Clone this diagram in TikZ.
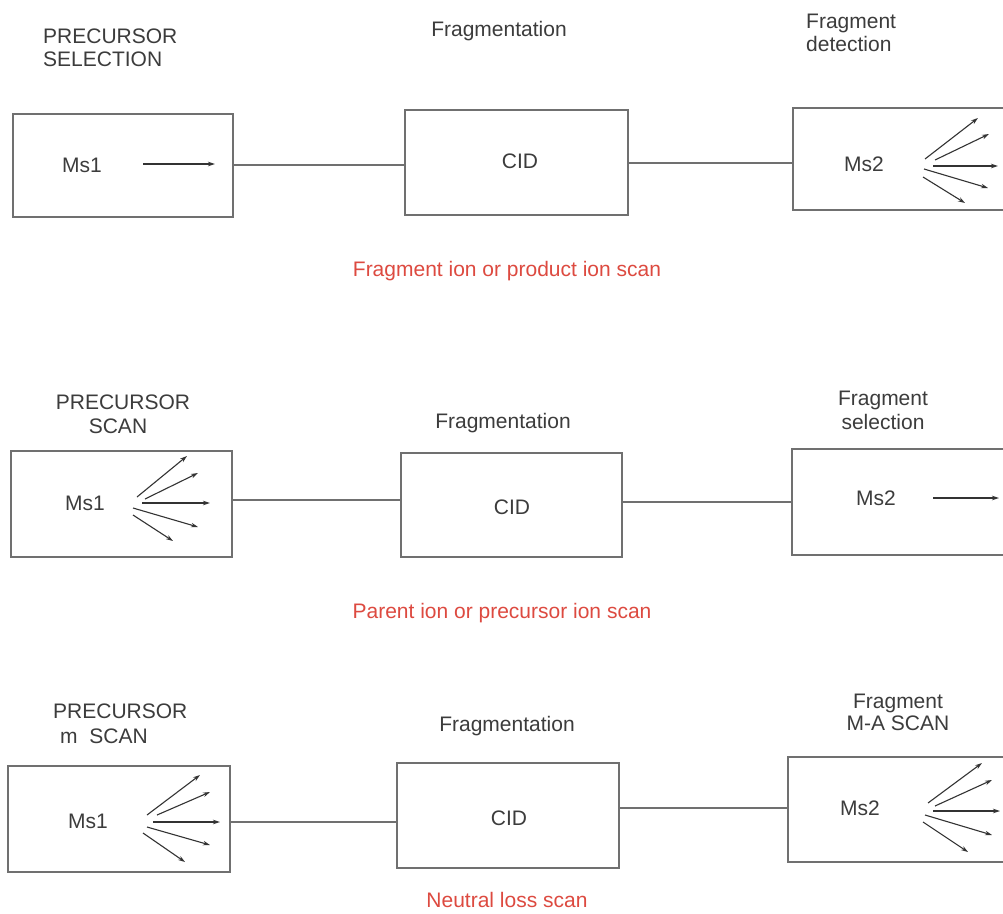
\documentclass[tikz,border=0pt]{standalone}
\usepackage{fontspec}
\setmainfont{Liberation Sans}
\usetikzlibrary{arrows.meta}
\definecolor{txt}{HTML}{3C3C3C}
\definecolor{boxc}{HTML}{707070}
\definecolor{redt}{HTML}{DD4A40}
\definecolor{arr}{HTML}{333333}
\tikzset{
  unit/.style={draw=boxc,line width=1.5pt,rectangle,inner sep=0pt},
  lbl/.style={text=txt,font=\fontsize{21}{25}\selectfont,inner sep=0pt},
  red/.style={text=redt,font=\fontsize{21}{25}\selectfont,inner sep=0pt},
  conn/.style={draw=boxc,line width=1.3pt},
  ray/.style={draw=arr,line width=1.1pt,-{Stealth[length=7pt,width=4.5pt]}}
}
\begin{document}
\begin{tikzpicture}[x=1pt,y=-1pt]
\useasboundingbox (0,0) rectangle (1003,913);
\clip (0,0) rectangle (1003,913);
\fill[white] (0,0) rectangle (1003,913);
% ---------- row 1 ----------
\node[unit,minimum width=220pt,minimum height=103pt] (m1a) at (123,165.5) {};
\node[unit,minimum width=223pt,minimum height=105pt] (c1) at (516.5,162.5) {};
\node[unit,minimum width=220pt,minimum height=102pt] (m2a) at (903,159) {};
\node[lbl,anchor=base] (m1at) at (82,172) {Ms1};
\node[lbl,anchor=base] (c1t) at (520,168) {CID};
\node[lbl,anchor=base] (m2at) at (864,171) {Ms2};
\node[lbl,anchor=base west] (l1a) at (43,43) {PRECURSOR};
\node[lbl,anchor=base west] (l1b) at (43,66) {SELECTION};
\node[lbl,anchor=base] (l1c) at (499,36) {Fragmentation};
\node[lbl,anchor=base west] (l1d) at (806,28) {Fragment};
\node[lbl,anchor=base west] (l1e) at (806,51) {detection};
\node[red,anchor=base] (r1) at (507,276) {Fragment ion or product ion scan};
\draw[conn] (m1a.east |- 0,165) -- (c1.west |- 0,165);
\draw[conn] (c1.east |- 0,163) -- (m2a.west |- 0,163);
\coordinate (a1s) at (143,164); \coordinate (a1e) at (215,164);
\draw[ray] (a1s) -- (a1e);
\draw[ray] (925,159) -- (978,118);
\draw[ray] (935,160) -- (989,134);
\draw[ray] (933,166) -- (998,166);
\draw[ray] (924,169) -- (988,188);
\draw[ray] (923,177) -- (965,203);
% ---------- row 2 ----------
\node[unit,minimum width=221pt,minimum height=106pt] (m1b) at (121.5,504) {};
\node[unit,minimum width=221pt,minimum height=104pt] (c2) at (511.5,505) {};
\node[unit,minimum width=220pt,minimum height=106pt] (m2b) at (902,502) {};
\node[lbl,anchor=base] (m1bt) at (85,510) {Ms1};
\node[lbl,anchor=base] (c2t) at (512,514) {CID};
\node[lbl,anchor=base] (m2bt) at (876,505) {Ms2};
\node[lbl,anchor=base] (l2a) at (123,409) {PRECURSOR};
\node[lbl,anchor=base] (l2b) at (118,433) {SCAN};
\node[lbl,anchor=base] (l2c) at (503,428) {Fragmentation};
\node[lbl,anchor=base] (l2d) at (883,405) {Fragment};
\node[lbl,anchor=base] (l2e) at (883,429) {selection};
\node[red,anchor=base] (r2) at (502,618) {Parent ion or precursor ion scan};
\draw[conn] (m1b.east |- 0,500) -- (c2.west |- 0,500);
\draw[conn] (c2.east |- 0,502) -- (m2b.west |- 0,502);
\draw[ray] (137,497) -- (187,456);
\draw[ray] (145,499) -- (198,473);
\draw[ray] (142,503) -- (210,503);
\draw[ray] (133,508) -- (198,527);
\draw[ray] (133,515) -- (173,541);
\draw[ray] (933,498) -- (999,498);
% ---------- row 3 ----------
\node[unit,minimum width=222pt,minimum height=106pt] (m1c) at (119,819) {};
\node[unit,minimum width=222pt,minimum height=105pt] (c3) at (508,815.5) {};
\node[unit,minimum width=220pt,minimum height=105pt] (m2c) at (898,809.5) {};
\node[lbl,anchor=base] (m1ct) at (88,828) {Ms1};
\node[lbl,anchor=base] (c3t) at (509,825) {CID};
\node[lbl,anchor=base] (m2ct) at (860,815) {Ms2};
\node[lbl,anchor=base west] (l3a) at (53,718) {PRECURSOR};
\node[lbl,anchor=base west] (l3b) at (60,743) {m\ \ SCAN};
\node[lbl,anchor=base] (l3c) at (507,731) {Fragmentation};
\node[lbl,anchor=base] (l3d) at (898,708) {Fragment};
\node[lbl,anchor=base] (l3e) at (898,730) {M-A SCAN};
\node[red,anchor=base] (r3) at (507,907) {Neutral loss scan};
\draw[conn] (m1c.east |- 0,822) -- (c3.west |- 0,822);
\draw[conn] (c3.east |- 0,808) -- (m2c.west |- 0,808);
\draw[ray] (147,815) -- (200,775);
\draw[ray] (157,815) -- (210,792);
\draw[ray] (153,822) -- (220,822);
\draw[ray] (147,827) -- (210,845);
\draw[ray] (143,833) -- (185,862);
\draw[ray] (928,803) -- (982,763);
\draw[ray] (935,806) -- (992,780);
\draw[ray] (933,811) -- (1000,811);
\draw[ray] (925,815) -- (992,835);
\draw[ray] (923,822) -- (968,852);
\end{tikzpicture}
\end{document}
